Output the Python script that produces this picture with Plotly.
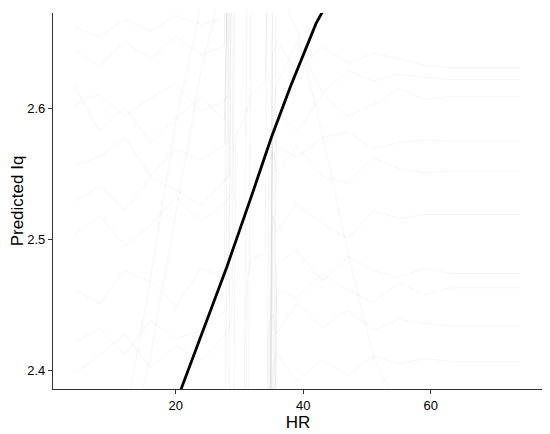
"""Courbes ICE (individual conditional expectation) de la prédiction selon HR"""

import plotly.graph_objects as go

# Grille de HR sur laquelle chaque courbe individuelle est évaluée
hr_grid = [4, 8, 12, 16, 20, 24, 27.6, 28.2, 28.8, 29.4, 30.6, 31.2, 31.8,
           34.0, 34.6, 35.2, 35.8, 39, 43, 47, 51, 55, 59, 63, 74]

# Courbes individuelles (lues approximativement sur la figure)
# visibles à gauche, sortent par le haut vers HR = 28
ice_a1 = [2.645, 2.632, 2.651, 2.638, 2.655, 2.641, 2.648, 2.98, 3.00, 3.01, 3.02, 3.10, 3.11, 3.12, 3.20, 3.28, 3.29, 3.30, 3.31, 3.30, 3.31, 3.31, 3.31, 3.31, 3.31]
ice_a2 = [2.602, 2.611, 2.594, 2.608, 2.619, 2.598, 2.605, 2.612, 2.93, 2.94, 2.95, 3.04, 3.05, 3.06, 3.15, 3.24, 3.25, 3.26, 3.25, 3.26, 3.26, 3.26, 3.26, 3.26, 3.26]
ice_a3 = [2.556, 2.563, 2.578, 2.548, 2.569, 2.561, 2.572, 2.90, 2.91, 2.92, 2.93, 3.00, 3.01, 3.02, 3.10, 3.19, 3.20, 3.19, 3.21, 3.20, 3.20, 3.20, 3.20, 3.20, 3.20]
ice_a4 = [2.503, 2.518, 2.495, 2.511, 2.532, 2.514, 2.527, 2.531, 2.536, 2.86, 2.87, 2.95, 2.96, 2.97, 3.05, 3.14, 3.15, 3.16, 3.15, 3.16, 3.16, 3.16, 3.16, 3.16, 3.16]
ice_a5 = [2.462, 2.451, 2.476, 2.468, 2.449, 2.478, 2.470, 2.80, 2.81, 2.82, 2.83, 2.90, 2.91, 2.92, 3.00, 3.09, 3.10, 3.09, 3.11, 3.10, 3.10, 3.10, 3.10, 3.10, 3.10]
ice_a6 = [2.421, 2.432, 2.412, 2.438, 2.424, 2.431, 2.445, 2.452, 2.77, 2.78, 2.79, 2.86, 2.87, 2.88, 2.96, 3.05, 3.06, 3.07, 3.06, 3.07, 3.07, 3.07, 3.07, 3.07, 3.07]
ice_a7 = [2.398, 2.411, 2.428, 2.402, 2.419, 2.408, 2.426, 2.431, 2.439, 2.76, 2.77, 2.84, 2.85, 2.86, 2.94, 3.02, 3.03, 3.02, 3.04, 3.03, 3.03, 3.03, 3.03, 3.03, 3.03]
ice_a8 = [2.618, 2.583, 2.601, 2.574, 2.592, 2.609, 2.591, 2.92, 2.93, 2.94, 2.95, 3.01, 3.02, 3.03, 3.11, 3.21, 3.22, 3.21, 3.22, 3.22, 3.22, 3.22, 3.22, 3.22, 3.22]
ice_a9 = [2.528, 2.541, 2.522, 2.547, 2.538, 2.526, 2.544, 2.549, 2.88, 2.89, 2.90, 2.97, 2.98, 2.99, 3.07, 3.16, 3.17, 3.18, 3.17, 3.18, 3.18, 3.18, 3.18, 3.18, 3.18]
ice_a10 = [2.662, 2.655, 2.668, 2.659, 2.671, 2.664, 2.669, 3.00, 3.01, 3.02, 3.03, 3.10, 3.11, 3.12, 3.20, 3.29, 3.30, 3.31, 3.30, 3.31, 3.31, 3.31, 3.31, 3.31, 3.31]

# entrent par le bas vers HR = 35, visibles à droite
ice_b1 = [1.95, 1.96, 1.94, 1.97, 1.96, 1.95, 1.97, 1.98, 2.08, 2.09, 2.10, 2.19, 2.20, 2.21, 2.22, 2.641, 2.652, 2.628, 2.647, 2.635, 2.642, 2.638, 2.633, 2.631, 2.631]
ice_b2 = [1.91, 1.92, 1.90, 1.93, 1.92, 1.91, 1.93, 1.94, 2.04, 2.05, 2.06, 2.15, 2.16, 2.17, 2.18, 2.19, 2.598, 2.582, 2.611, 2.594, 2.603, 2.615, 2.607, 2.609, 2.609]
ice_b3 = [1.88, 1.87, 1.89, 1.88, 1.90, 1.88, 1.89, 1.90, 2.00, 2.01, 2.02, 2.11, 2.12, 2.13, 2.558, 2.567, 2.552, 2.571, 2.548, 2.543, 2.562, 2.554, 2.551, 2.552, 2.552]
ice_b4 = [1.84, 1.85, 1.83, 1.85, 1.84, 1.86, 1.85, 1.86, 1.96, 1.97, 1.98, 2.07, 2.08, 2.09, 2.10, 2.518, 2.506, 2.527, 2.512, 2.501, 2.522, 2.516, 2.519, 2.519, 2.519]
ice_b5 = [1.80, 1.81, 1.80, 1.82, 1.81, 1.80, 1.82, 1.83, 1.92, 1.93, 1.94, 2.03, 2.04, 2.05, 2.06, 2.07, 2.481, 2.492, 2.468, 2.487, 2.476, 2.471, 2.478, 2.474, 2.474]
ice_b6 = [1.76, 1.77, 1.76, 1.78, 1.77, 1.76, 1.78, 1.79, 1.88, 1.89, 1.90, 1.99, 2.00, 2.01, 2.437, 2.442, 2.428, 2.451, 2.433, 2.446, 2.431, 2.439, 2.436, 2.434, 2.434]
ice_b7 = [1.73, 1.72, 1.74, 1.73, 1.75, 1.73, 1.74, 1.75, 1.84, 1.85, 1.86, 1.95, 1.96, 1.97, 1.98, 2.401, 2.413, 2.392, 2.408, 2.396, 2.411, 2.405, 2.409, 2.407, 2.407]
ice_b8 = [1.93, 1.94, 1.92, 1.95, 1.93, 1.94, 1.95, 1.96, 2.06, 2.07, 2.08, 2.17, 2.18, 2.19, 2.20, 2.592, 2.618, 2.651, 2.612, 2.629, 2.621, 2.626, 2.624, 2.622, 2.622]
ice_b9 = [1.86, 1.87, 1.86, 1.88, 1.87, 1.86, 1.88, 1.89, 1.98, 1.99, 2.00, 2.09, 2.10, 2.11, 2.12, 2.13, 2.462, 2.455, 2.474, 2.461, 2.452, 2.467, 2.458, 2.463, 2.463]
ice_b10 = [1.78, 1.79, 1.78, 1.80, 1.79, 1.78, 1.80, 1.81, 1.90, 1.91, 1.92, 2.01, 2.02, 2.03, 2.04, 2.585, 2.571, 2.563, 2.578, 2.582, 2.569, 2.574, 2.576, 2.575, 2.575]
ice_b11 = [1.90, 1.91, 1.90, 1.92, 1.91, 1.90, 1.92, 1.93, 2.02, 2.03, 2.04, 2.13, 2.14, 2.15, 2.16, 2.70, 2.69, 2.66, 2.58, 2.49, 2.41, 2.37, 2.35, 2.34, 2.34]

# traversent toute la plage verticale (bandes verticales)
ice_c1 = [2.22, 2.21, 2.23, 2.22, 2.24, 2.23, 2.25, 2.26, 2.78, 2.79, 2.80, 2.92, 2.93, 2.94, 3.00, 3.10, 3.11, 3.10, 3.12, 3.11, 3.11, 3.11, 3.11, 3.11, 3.11]
ice_c2 = [2.18, 2.19, 2.17, 2.20, 2.19, 2.21, 2.20, 2.74, 2.75, 2.76, 2.77, 2.88, 2.89, 2.90, 2.96, 3.06, 3.07, 3.08, 3.07, 3.08, 3.08, 3.08, 3.08, 3.08, 3.08]
ice_c3 = [2.05, 2.06, 2.04, 2.07, 2.06, 2.08, 2.09, 2.10, 2.11, 2.12, 2.22, 2.74, 2.76, 2.78, 2.85, 2.95, 2.96, 2.95, 2.97, 2.96, 2.96, 2.96, 2.96, 2.96, 2.96]
ice_c4 = [2.02, 2.03, 2.01, 2.04, 2.03, 2.05, 2.06, 2.07, 2.08, 2.09, 2.18, 2.20, 2.72, 2.74, 2.80, 2.90, 2.91, 2.90, 2.92, 2.91, 2.91, 2.91, 2.91, 2.91, 2.91]
ice_c5 = [1.98, 1.99, 1.97, 2.00, 1.99, 2.01, 2.02, 2.03, 2.04, 2.05, 2.14, 2.16, 2.18, 2.24, 2.30, 2.74, 2.75, 2.76, 2.75, 2.76, 2.76, 2.76, 2.76, 2.76, 2.76]
ice_c6 = [1.96, 1.97, 1.95, 1.98, 1.97, 1.99, 2.00, 2.01, 2.02, 2.03, 2.12, 2.14, 2.16, 2.22, 2.28, 2.32, 2.73, 2.72, 2.74, 2.73, 2.73, 2.73, 2.73, 2.73, 2.73]
ice_c7 = [1.99, 2.00, 1.98, 2.01, 2.00, 2.02, 2.03, 2.04, 2.05, 2.06, 2.15, 2.47, 2.485, 2.49, 2.88, 2.87, 2.86, 2.88, 2.87, 2.87, 2.87, 2.87, 2.87, 2.87, 2.87]
ice_c8 = [2.10, 2.11, 2.12, 2.10, 2.13, 2.12, 2.14, 2.15, 2.16, 2.58, 2.59, 2.60, 2.61, 2.62, 2.95, 2.98, 2.99, 3.00, 3.01, 3.00, 3.00, 3.00, 3.00, 3.00, 3.00]

# montent en diagonale entre HR = 12 et 24
ice_d1 = [2.25, 2.28, 2.33, 2.41, 2.52, 2.63, 2.70, 2.71, 2.90, 2.91, 2.92, 3.00, 3.01, 3.02, 3.10, 3.18, 3.19, 3.20, 3.21, 3.20, 3.21, 3.21, 3.21, 3.21, 3.21]
ice_d2 = [2.30, 2.31, 2.36, 2.47, 2.59, 2.68, 2.72, 2.73, 2.92, 2.93, 2.94, 3.02, 3.03, 3.04, 3.12, 3.20, 3.21, 3.22, 3.23, 3.22, 3.23, 3.23, 3.23, 3.23, 3.23]

ice_curves = [
    ice_a1, ice_a2, ice_a3, ice_a4, ice_a5, ice_a6, ice_a7, ice_a8, ice_a9, ice_a10,
    ice_b1, ice_b2, ice_b3, ice_b4, ice_b5, ice_b6, ice_b7, ice_b8, ice_b9, ice_b10, ice_b11,
    ice_c1, ice_c2, ice_c3, ice_c4, ice_c5, ice_c6, ice_c7, ice_c8,
    ice_d1, ice_d2,
]

# Courbe moyenne (dépendance partielle)
pd_hr = [16, 20, 24, 28, 32, 35, 38, 42, 46]
pd_pred = [2.323, 2.375, 2.427, 2.479, 2.535, 2.578, 2.617, 2.665, 2.700]

fig = go.Figure()

for curve in ice_curves:
    fig.add_trace(
        go.Scatter(
            x=hr_grid,
            y=curve,
            mode="lines",
            line=dict(color="rgba(0,0,0,0.045)", width=1),
            hoverinfo="skip",
            showlegend=False,
        )
    )

fig.add_trace(
    go.Scatter(
        x=pd_hr,
        y=pd_pred,
        mode="lines",
        line=dict(color="black", width=2.8),
        showlegend=False,
    )
)

axis_style = dict(
    showline=True,
    linecolor="#333333",
    linewidth=1.2,
    ticks="outside",
    ticklen=4,
    tickcolor="#333333",
    showgrid=False,
    zeroline=False,
    tickfont=dict(family="Liberation Sans, Arial", size=13, color="black"),
    title_font=dict(family="Liberation Sans, Arial", size=17, color="black"),
)

# la page ajoute 8 px de marge au corps : marges décalées en conséquence
fig.update_layout(
    width=550,
    height=434,
    margin=dict(l=43, r=15, t=5, b=53),
    plot_bgcolor="white",
    paper_bgcolor="white",
    xaxis=dict(
        axis_style,
        range=[0.73, 77.6],
        tickvals=[20, 40, 60],
        title=dict(text="HR", standoff=1),
    ),
    yaxis=dict(
        axis_style,
        range=[2.3858, 2.6729],
        tickvals=[2.4, 2.5, 2.6],
        tickformat=".1f",
        title=dict(text="Predicted Iq", standoff=2),
    ),
)

fig.write_html("out.html")
